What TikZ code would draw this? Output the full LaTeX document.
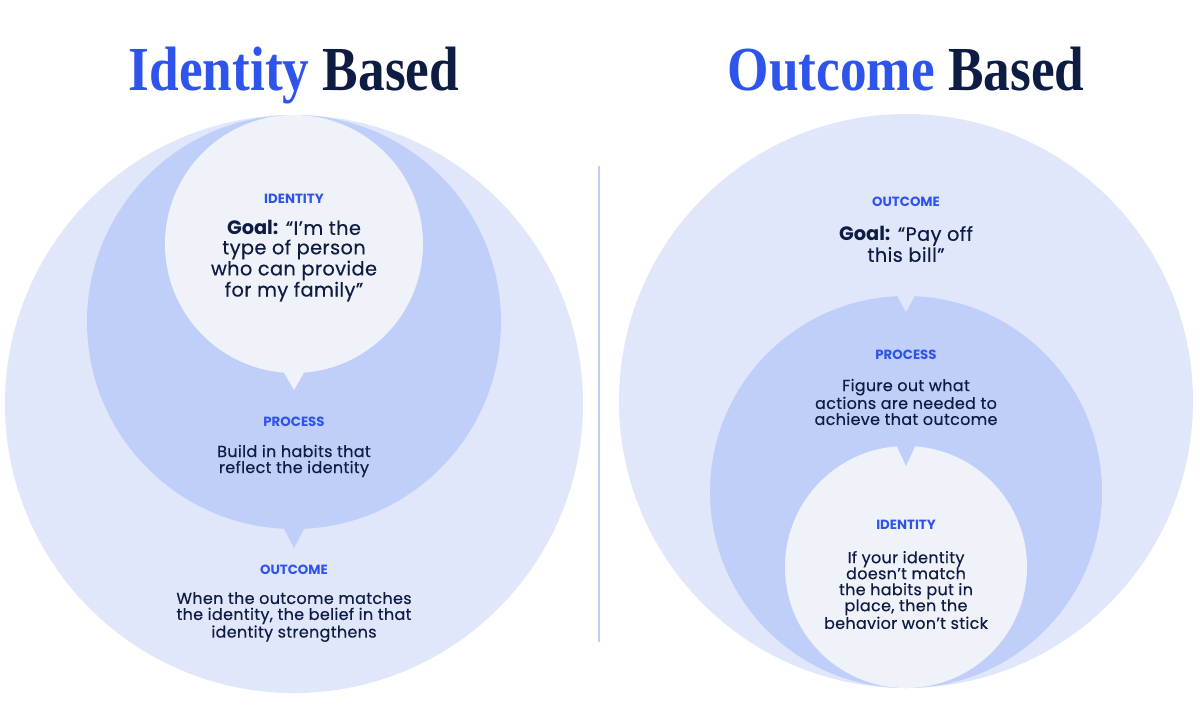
\documentclass[tikz,border=0pt]{standalone}
\usepackage{fontspec}
\setmainfont{Poppins}
\newfontfamily\bodyfont[FakeBold=0.35,LetterSpace=2]{Poppins}
\newfontfamily\headfont{Liberation Serif}
\usetikzlibrary{positioning,calc}

\definecolor{brand}{HTML}{2F54EB}
\definecolor{navy}{HTML}{0E1B43}
\definecolor{ringout}{HTML}{E0E7FB}
\definecolor{ringmid}{HTML}{C0CEFA}
\definecolor{ringin}{HTML}{EFF2F8}
\definecolor{divider}{HTML}{C5CCF5}

\begin{document}
\begin{tikzpicture}[
  x=0.75pt, y=-0.75pt,
  ring/.style={circle,inner sep=0pt,outer sep=0pt,draw=none},
  title/.style={anchor=base,inner sep=0pt,font=\headfont\bfseries\fontsize{47}{47}\selectfont},
  tag/.style={inner sep=0pt,font=\bfseries\fontsize{10}{10}\selectfont,text=brand},
  body/.style={inner sep=0pt,align=center,font=\bodyfont\fontsize{12}{12}\selectfont,text=navy},
  goal/.style={inner sep=0pt,align=center,font=\bodyfont\fontsize{14.5}{14.6}\selectfont,text=navy}
]

% Frame
\useasboundingbox (0,0) rectangle (1200,704);
\fill[white] (0,0) rectangle (1200,704);

% Titles
\node[title] (ttlL) at (294,90) {\scalebox{0.85}[1]{\textcolor{brand}{Identity} \textcolor{navy}{Based}}};
\node[title] (ttlR) at (906,90) {\scalebox{0.85}[1]{\textcolor{brand}{Outcome} \textcolor{navy}{Based}}};

% Divider
\coordinate (divTop) at (599,166);
\coordinate (divBot) at (599,642);
\draw[divider,line width=1.2pt] (divTop) -- (divBot);

% Identity based rings
\node[ring,fill=ringout,minimum size=433.5pt] (outL) at (294,404) {};
\node[ring,fill=ringmid,minimum size=310.5pt] (midL) at (294,322) {};
\node[ring,fill=ringin,minimum size=193.5pt] (inL) at (294,244) {};
\fill[ringin] ($(inL.south)+(-12,-4)$) -- ($(inL.south)+(12,-4)$) -- ($(inL.south)+(0,17)$) -- cycle;
\fill[ringmid] ($(midL.south)+(-12,-4)$) -- ($(midL.south)+(12,-4)$) -- ($(midL.south)+(0,19)$) -- cycle;

% Outcome based rings
\node[ring,fill=ringout,minimum size=430.5pt] (outR) at (906,401) {};
\node[ring,fill=ringmid,minimum size=294pt] (midR) at (906,492) {};
\node[ring,fill=ringin,minimum size=181.5pt] (inR) at (906,567) {};
\fill[ringout] ($(midR.north)+(-12,-6)$) -- ($(midR.north)+(12,-6)$) -- ($(midR.north)+(0,16)$) -- cycle;
\fill[ringmid] ($(inR.north)+(-12,-6)$) -- ($(inR.north)+(12,-6)$) -- ($(inR.north)+(0,20)$) -- cycle;

% Identity based texts
\node[tag] (tagIdL) at (294,199) {IDENTITY};
\node[goal] (goalL) at (294,261) {{\fontspec{Poppins}\bfseries Goal:} “I’m the\\type of person\\who can provide\\for my family”};
\node[tag] (tagPrL) at (294,422) {PROCESS};
\node[body] (bodyPrL) at (294,461) {Build in habits that\\reflect the identity};
\node[tag] (tagOcL) at (294,570) {OUTCOME};
\node[body] (bodyOcL) at (294,617) {When the outcome matches\\the identity, the belief in that\\identity strengthens};

% Outcome based texts
\node[tag] (tagOcR) at (906,202) {OUTCOME};
\node[goal] (goalR) at (906,244) {{\fontspec{Poppins}\bfseries Goal:} “Pay off\\this bill”};
\node[tag] (tagPrR) at (906,355) {PROCESS};
\node[body] (bodyPrR) at (906,402) {Figure out what\\actions are needed to\\achieve that outcome};
\node[tag] (tagIdR) at (906,525) {IDENTITY};
\node[body] (bodyIdR) at (906,590) {If your identity\\doesn’t match\\the habits put in\\place, then the\\behavior won’t stick};

\end{tikzpicture}
\end{document}
